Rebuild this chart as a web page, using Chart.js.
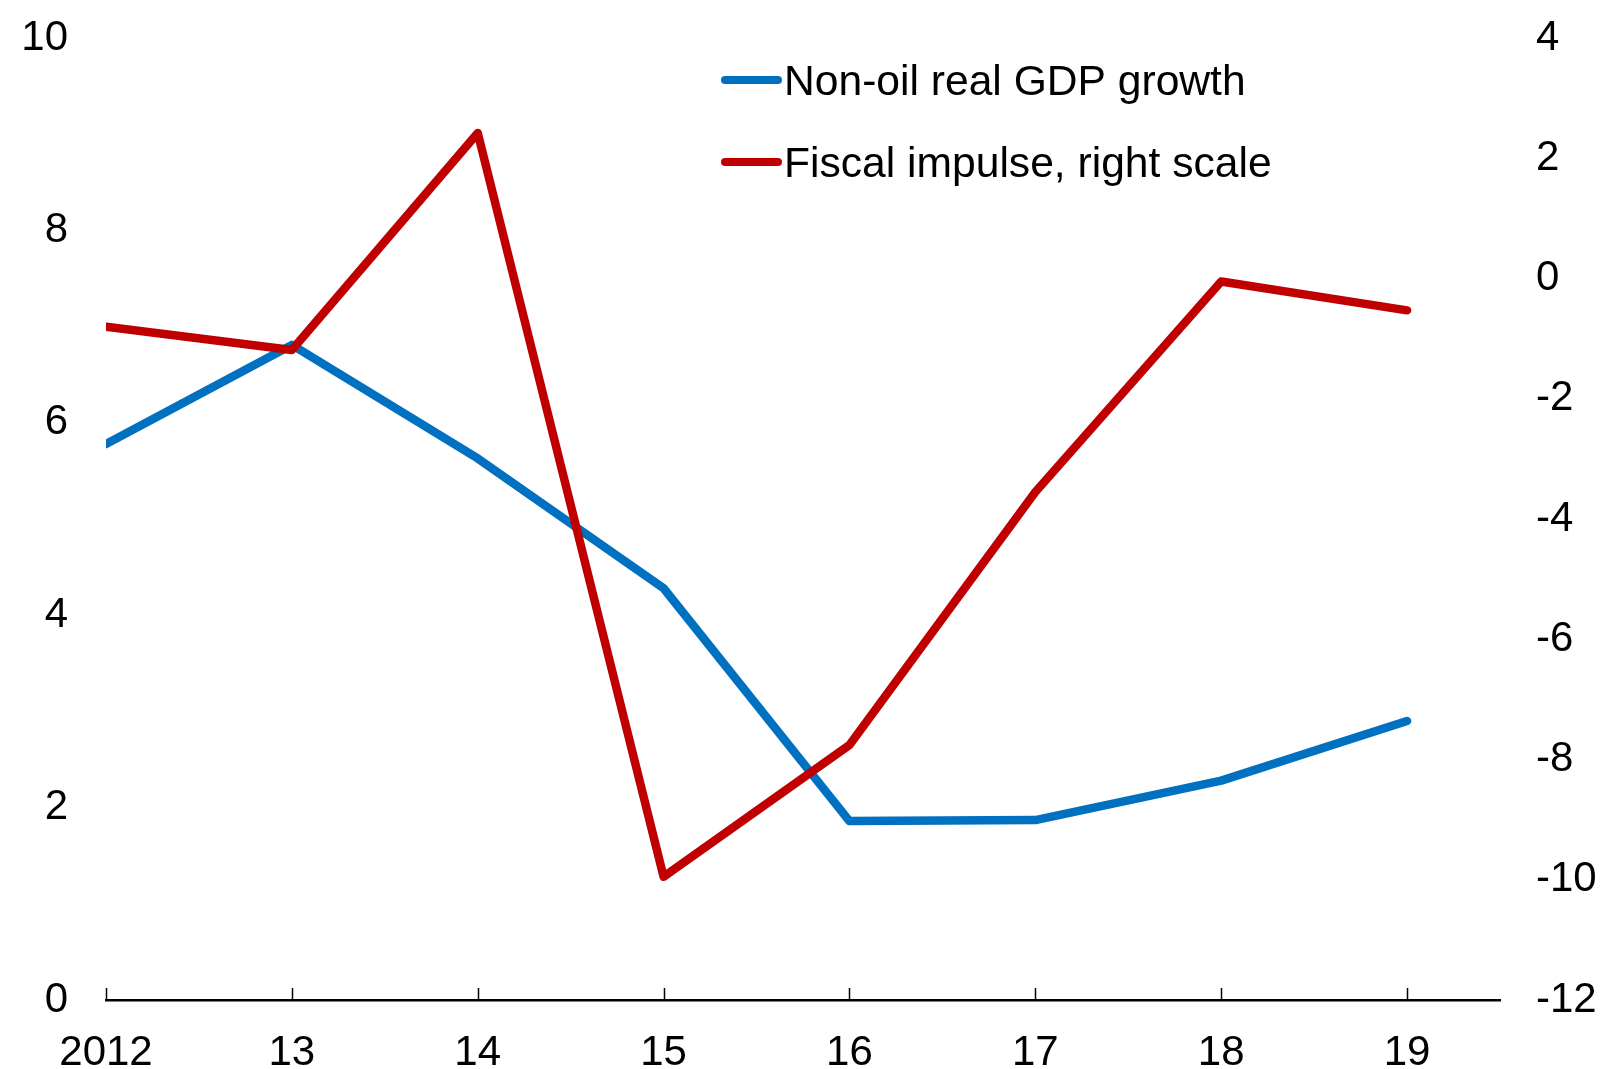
<!DOCTYPE html>
<html>
<head>
<meta charset="utf-8">
<script src="https://cdn.jsdelivr.net/npm/chart.js@4"></script>
<style>
  html, body { margin: 0; padding: 0; background: #fff; }
  #wrap { width: 1604px; height: 1069px; }
</style>
</head>
<body>
<div id="wrap"><canvas id="chart" width="1604" height="1069"></canvas></div>
<script>
// categories + series
const YEARS       = ['2012', '13', '14', '15', '16', '17', '18', '19'];
const GDP_GROWTH  = [5.78, 6.81, 5.63, 4.28, 1.86, 1.87, 2.28, 2.90];
const FISCAL_IMP  = [-0.80, -1.19, 2.42, -9.95, -7.76, -3.55, -0.05, -0.53];
const LEFT_TICKS  = [0, 2, 4, 6, 8, 10];
const RIGHT_TICKS = [-12, -10, -8, -6, -4, -2, 0, 2, 4];
const LABELS      = ['Non-oil real GDP growth', 'Fiscal impulse, right scale'];

const BLUE = '#0070C0';
const RED  = '#C00000';
const FONT = "'Liberation Sans', Arial, sans-serif";

// small tick marks pointing up from the x axis
const xTickMarks = {
  id: 'xTickMarks',
  afterDatasetsDraw(chart) {
    const { ctx, chartArea, scales } = chart;
    ctx.save();
    ctx.strokeStyle = '#000';
    ctx.lineWidth = 1.5;
    YEARS.forEach((_, i) => {
      const x = Math.round(scales.x.getPixelForValue(i)) + 0.5;
      ctx.beginPath();
      ctx.moveTo(x, chartArea.bottom);
      ctx.lineTo(x, chartArea.bottom - 12);
      ctx.stroke();
    });
    ctx.restore();
  }
};

// legend drawn inside the plot, top middle
const insideLegend = {
  id: 'insideLegend',
  afterDraw(chart) {
    const { ctx } = chart;
    ctx.save();
    ctx.font = '42.6px ' + FONT;
    ctx.fillStyle = '#000';
    ctx.textBaseline = 'alphabetic';
    chart.data.datasets.forEach((ds, i) => {
      const y = 80 + i * 82;
      ctx.strokeStyle = ds.borderColor;
      ctx.lineWidth = 8;
      ctx.lineCap = 'round';
      ctx.beginPath();
      ctx.moveTo(725, y);
      ctx.lineTo(778, y);
      ctx.stroke();
      ctx.fillText(ds.label, 784, y + 15);
    });
    ctx.restore();
  }
};

// y axes: fixed width, and don't let tick padding push the plot area down
const fitY = w => s => { s.width = w; s.paddingTop = 0; s.paddingBottom = 0; };

const ctx = document.getElementById('chart').getContext('2d');
new Chart(ctx, {
  type: 'line',
  data: {
    datasets: [
      {
        label: LABELS[0],
        data: GDP_GROWTH.map((v, i) => ({ x: i, y: v })),
        yAxisID: 'yL',
        borderColor: BLUE,
        borderWidth: 8.5,
        borderCapStyle: 'round',
        borderJoinStyle: 'round',
        pointRadius: 0,
        tension: 0,
        order: 1,
      },
      {
        label: LABELS[1],
        data: FISCAL_IMP.map((v, i) => ({ x: i, y: v })),
        yAxisID: 'yR',
        borderColor: RED,
        borderWidth: 8.5,
        borderCapStyle: 'round',
        borderJoinStyle: 'round',
        pointRadius: 0,
        tension: 0,
        order: 0,
      }
    ]
  },
  options: {
    responsive: false,
    animation: false,
    layout: { padding: { top: 38, left: 0, right: 0, bottom: 0 } },
    plugins: {
      legend: { display: false },
      tooltip: { enabled: false },
    },
    scales: {
      x: {
        type: 'linear',
        min: 0,
        max: YEARS.length - 0.5,
        afterFit: s => { s.height = 69; s.paddingLeft = 0; s.paddingRight = 0; },
        grid:   { display: false, drawTicks: false },
        border: { display: true, color: '#000', width: 2.6 },
        ticks: {
          stepSize: 1,
          includeBounds: false,
          autoSkip: false,
          maxRotation: 0,
          padding: 28,
          color: '#000',
          font: { family: FONT, size: 42 },
          callback: v => YEARS[v] ?? '',
        }
      },
      yL: {
        position: 'left',
        min: 0,
        max: 10,
        afterFit: fitY(106),
        afterBuildTicks: s => { s.ticks = LEFT_TICKS.map(v => ({ value: v })); },
        grid:   { display: false, drawTicks: false },
        border: { display: false },
        ticks: { padding: 38, color: '#000', font: { family: FONT, size: 42 } }
      },
      yR: {
        position: 'right',
        min: -12,
        max: 4,
        afterFit: fitY(104),
        afterBuildTicks: s => { s.ticks = RIGHT_TICKS.map(v => ({ value: v })); },
        grid:   { display: false, drawTicks: false },
        border: { display: false },
        ticks: { padding: 36, color: '#000', font: { family: FONT, size: 42 } }
      }
    }
  },
  plugins: [xTickMarks, insideLegend]
});
</script>
</body>
</html>
